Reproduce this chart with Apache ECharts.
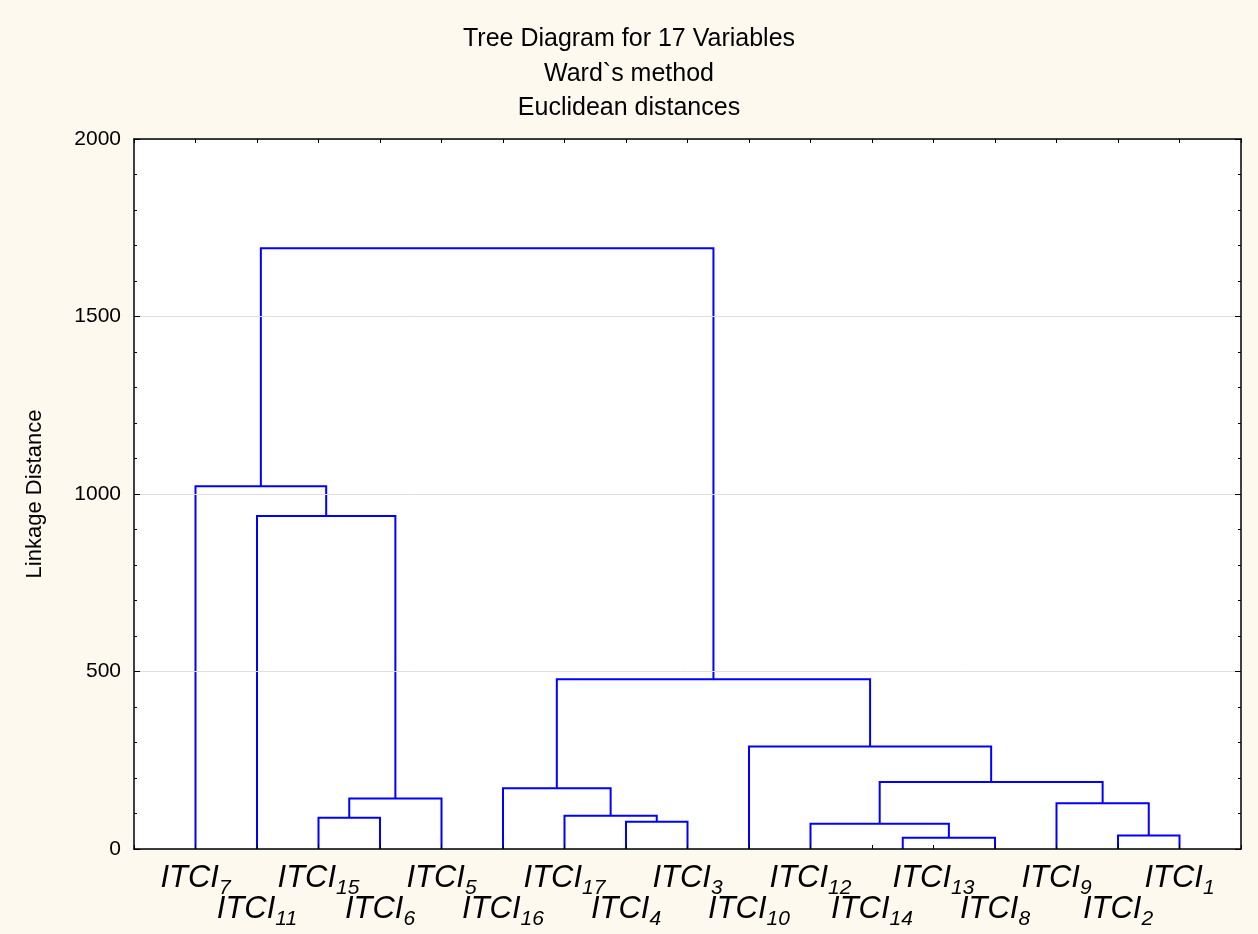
<!DOCTYPE html>
<html>
<head>
<meta charset="utf-8">
<script src="https://cdn.jsdelivr.net/npm/echarts@6/dist/echarts.min.js"></script>
<style>
html,body{margin:0;padding:0;background:#fdf9ee;}
#chart{width:1258px;height:934px;}
</style>
</head>
<body>
<div id="chart"></div>
<script>
// Leaf order along the x axis (subscript numbers of ITCI)
var leafNames = ['7','11','15','6','5','16','17','4','3','10','12','14','13','8','9','2','1'];
// Merges: children (leaf name or 'm' + merge index) and linkage distance
var mergeA = ['14','m0','2','12','4','15','17','9','m5','16','m3','10','m9','11','7','m14'];
var mergeB = ['13','8','1','m1','3','6','m4','m2','5','m6','m7','m10','m11','m8','m13','m12'];
var mergeHeight = [0,32,38,71,77,88,94,129,142,171,189,289,478,938,1022,1692];
var yTicks = [0,500,1000,1500,2000];
var titleLines = ['Tree Diagram for 17 Variables','Ward`s method','Euclidean distances'];
var yName = 'Linkage Distance';

var FONT = '"Liberation Sans", Arial, sans-serif';

// node positions: x (axis units), height
var nodeX = {}, nodeH = {};
leafNames.forEach(function(n,i){ nodeX[n]=i+1; nodeH[n]=0; });
var links = [];
for (var i=0;i<mergeA.length;i++){
  var a=mergeA[i], b=mergeB[i], h=mergeHeight[i];
  links.push([nodeX[a], nodeH[a], nodeX[b], nodeH[b], h]);
  nodeX['m'+i]=(nodeX[a]+nodeX[b])/2; nodeH['m'+i]=h;
}

function labelFmt(parity){
  return function(v){
    var i = Math.round(v)-1;
    if (i<0 || i>=leafNames.length || i%2!==parity) return '';
    return '{m|ITCI}{s|' + leafNames[i] + '}';
  };
}
var rich = {
  m:{fontSize:31, fontStyle:'italic', fontFamily:FONT, color:'#000', lineHeight:31, verticalAlign:'top'},
  s:{fontSize:21, fontStyle:'italic', fontFamily:FONT, color:'#000', lineHeight:21, verticalAlign:'top', padding:[15,0,0,0]}
};

var chart = echarts.init(document.getElementById('chart'), null, {renderer:'canvas'});
chart.setOption({
  backgroundColor:'#fdf9ee',
  animation:false,
  title:{
    text: titleLines.join('\n'),
    left:'center', top:17,
    textStyle:{fontSize:25, fontWeight:'normal', color:'#000', fontFamily:FONT, lineHeight:34.5}
  },
  grid:{left:134, right:17, top:139, bottom:85, show:true, backgroundColor:'#fff', borderWidth:0},
  xAxis:[
    {type:'value', min:0, max:18, interval:1, position:'bottom', z:10,
     axisLine:{show:true, onZero:false, lineStyle:{color:'#000', width:1.5}},
     axisTick:{show:true, inside:true, length:4, lineStyle:{color:'#000'}},
     splitLine:{show:false},
     axisLabel:{show:true, margin:14, formatter:labelFmt(0), rich:rich, showMinLabel:true, showMaxLabel:true}
    },
    {type:'value', min:0, max:18, interval:1, position:'bottom',
     axisLine:{show:false}, axisTick:{show:false}, splitLine:{show:false},
     axisLabel:{show:true, margin:45, formatter:labelFmt(1), rich:rich}
    },
    {type:'value', min:0, max:18, interval:1, position:'top', z:10,
     axisLine:{show:true, onZero:false, lineStyle:{color:'#000', width:1.5}},
     axisTick:{show:true, inside:true, length:4, lineStyle:{color:'#000'}},
     splitLine:{show:false}, axisLabel:{show:false}
    }
  ],
  yAxis:[
    {type:'value', min:yTicks[0], max:yTicks[yTicks.length-1], interval:yTicks[1]-yTicks[0], position:'left', z:10,
     name:yName, nameLocation:'middle', nameGap:88, nameRotate:90,
     nameTextStyle:{fontSize:22, color:'#000', fontFamily:FONT},
     axisLine:{show:true, onZero:false, lineStyle:{color:'#000', width:1.5}},
     axisTick:{show:true, inside:true, length:6, lineStyle:{color:'#000'}},
     minorTick:{show:true, splitNumber:5, length:3, lineStyle:{color:'#000'}},
     splitLine:{show:true, lineStyle:{color:'#dedede', width:1}},
     axisLabel:{fontSize:21, color:'#000', fontFamily:FONT, margin:13, formatter:function(v){return String(v);}}
    },
    {type:'value', min:yTicks[0], max:yTicks[yTicks.length-1], interval:yTicks[1]-yTicks[0], position:'right', z:10,
     axisLine:{show:true, onZero:false, lineStyle:{color:'#000', width:1.5}},
     axisTick:{show:true, inside:true, length:6, lineStyle:{color:'#000'}},
     minorTick:{show:true, splitNumber:5, length:3, lineStyle:{color:'#000'}},
     splitLine:{show:false}, axisLabel:{show:false}
    }
  ],
  series:[{
    type:'custom', xAxisIndex:0, yAxisIndex:0, clip:false, z:2,
    data: links,
    renderItem:function(params, api){
      // a zero-height merge lies on the axis line and is not visible
      if (api.value(4) <= 0) return {type:'group', children:[]};
      var p1=api.coord([api.value(0), api.value(1)]);
      var p2=api.coord([api.value(0), api.value(4)]);
      var p3=api.coord([api.value(2), api.value(4)]);
      var p4=api.coord([api.value(2), api.value(3)]);
      return {type:'polyline', shape:{points:[p1,p2,p3,p4]}, style:{stroke:'#0000ff', lineWidth:2, fill:null}};
    }
  }]
});
</script>
</body>
</html>
